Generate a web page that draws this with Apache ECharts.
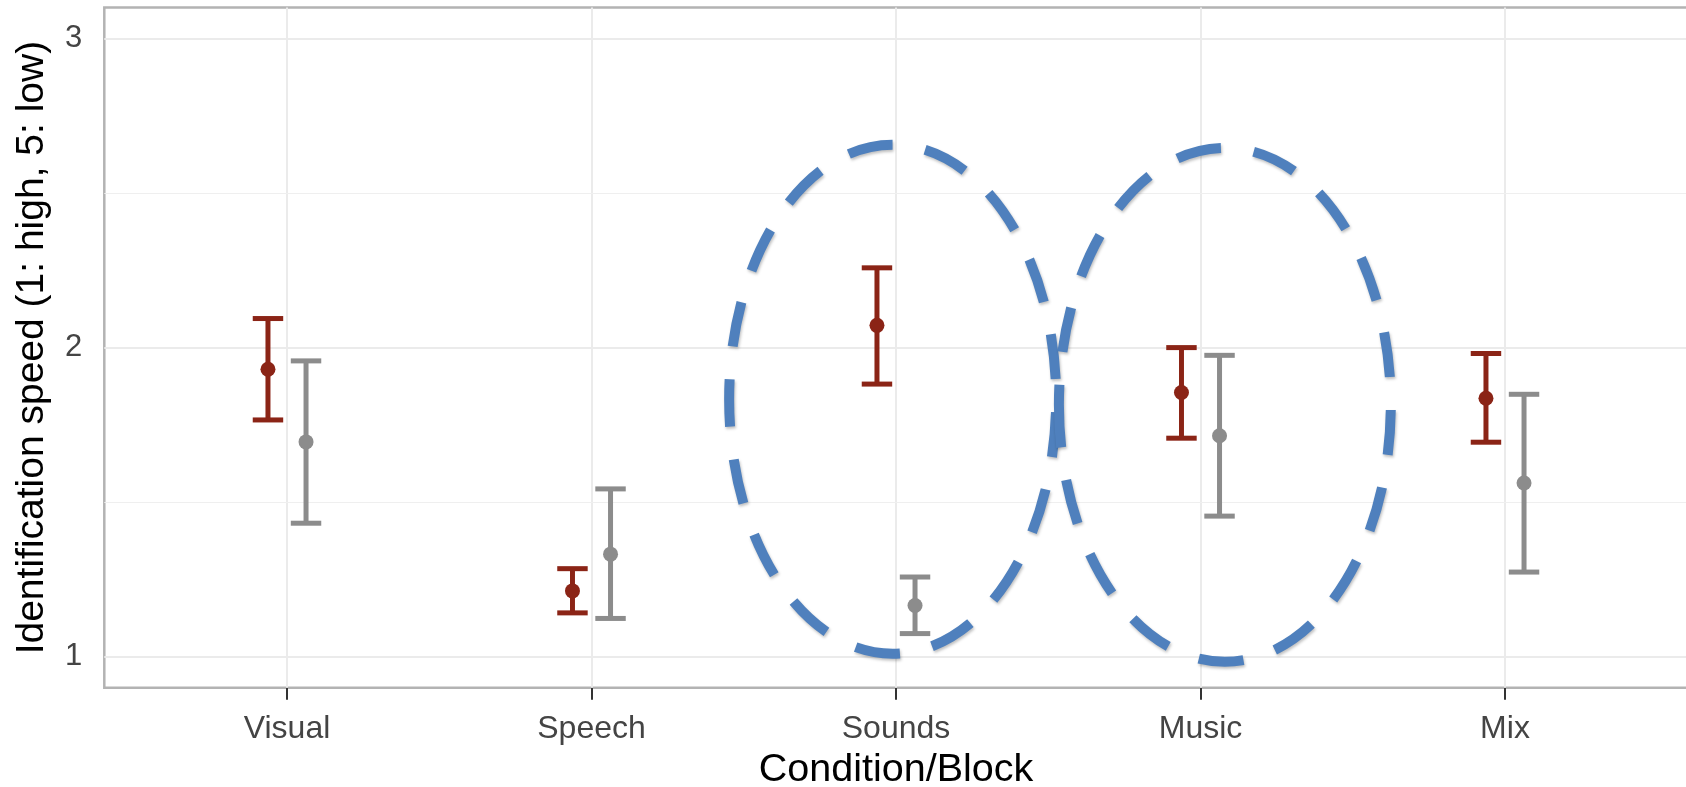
<!DOCTYPE html>
<html>
<head>
<meta charset="utf-8">
<script src="https://cdn.jsdelivr.net/npm/echarts@6/dist/echarts.min.js"></script>
<style>
html,body{margin:0;padding:0;background:#fff;}
#chart{width:1686px;height:787px;}
</style>
</head>
<body>
<div id="chart"></div>
<script>
// ---- data ----
const categories = ['Visual', 'Speech', 'Sounds', 'Music', 'Mix'];
const redMean  = [1.930, 1.213, 2.072, 1.855, 1.836];
const redLow   = [1.766, 1.142, 1.882, 1.707, 1.694];
const redHigh  = [2.094, 1.285, 2.258, 2.000, 1.981];
const greyMean = [1.695, 1.332, 1.166, 1.715, 1.562];
const greyLow  = [1.432, 1.124, 1.075, 1.455, 1.274];
const greyHigh = [1.957, 1.543, 1.258, 1.975, 1.849];
const yTicks = [1, 2, 3];
const yMinorTicks = [1.5, 2.5];
// highlight ellipses (data units: x in category index, y in value)
const ellipseCX = [1.989, 3.080];
const ellipseCY = [1.833, 1.815];
const ellipseRX = [0.537, 0.545];
const ellipseRY = [0.823, 0.831];

// ---- styling constants ----
const RED = '#8b2416';
const GREY = '#8c8c8c';
const DODGE = 0.0625;
const CAP_HALF = 0.05;
const catIdx = categories.map((c, i) => i);

function errorSeries(name, mean, low, high, color, offset) {
  return {
    name: name,
    type: 'custom',
    z: 5,
    data: mean.map((m, i) => [i, m, low[i], high[i]]),
    renderItem: function (params, api) {
      const x = api.value(0) + offset;
      const pm = api.coord([x, api.value(1)]);
      const pl = api.coord([x, api.value(2)]);
      const ph = api.coord([x, api.value(3)]);
      const cw = api.size([CAP_HALF, 0])[0];
      const ls = { stroke: color, lineWidth: 5, fill: null };
      return {
        type: 'group',
        children: [
          { type: 'line', shape: { x1: pm[0], y1: pl[1], x2: pm[0], y2: ph[1] }, style: ls },
          { type: 'line', shape: { x1: pm[0] - cw, y1: ph[1], x2: pm[0] + cw, y2: ph[1] }, style: ls },
          { type: 'line', shape: { x1: pm[0] - cw, y1: pl[1], x2: pm[0] + cw, y2: pl[1] }, style: ls },
          { type: 'circle', shape: { cx: pm[0], cy: pm[1], r: 7.5 }, style: { fill: color } }
        ]
      };
    }
  };
}

const gridLines = []
  .concat(yTicks.map(v => ({ yAxis: v })))
  .concat(catIdx.map(v => ({ xAxis: v })))
  .concat(yMinorTicks.map(v => ({ yAxis: v, lineStyle: { width: 1.2, color: '#efefef' } })));

const chart = echarts.init(document.getElementById('chart'), null, { renderer: 'canvas' });
const option = {
  animation: false,
  backgroundColor: '#ffffff',
  textStyle: { fontFamily: 'Liberation Sans, Arial, sans-serif' },
  grid: {
    left: 104.3, right: -1.7, top: 7.5, bottom: 99.3,
    containLabel: false, outerBoundsMode: 'none',
    show: true, borderColor: '#b3b3b3', borderWidth: 2.5, backgroundColor: 'transparent'
  },
  xAxis: {
    type: 'value', min: -0.6, max: 4.6,
    name: 'Condition/Block', nameLocation: 'middle', nameGap: 62,
    nameTextStyle: { fontSize: 39.5, color: '#000' },
    axisLine: { show: false },
    axisTick: { show: true, customValues: catIdx, length: 12, lineStyle: { color: '#333', width: 2 } },
    axisLabel: { customValues: catIdx, formatter: v => categories[Math.round(v)], fontSize: 32, color: '#444', margin: 25 },
    splitLine: { show: false }
  },
  yAxis: {
    type: 'value', min: 0.9, max: 3.1,
    name: 'Identification speed (1: high, 5: low)', nameLocation: 'middle', nameGap: 53,
    nameTextStyle: { fontSize: 39, color: '#000' },
    axisLine: { show: false },
    axisTick: { show: true, customValues: yTicks, length: 12, lineStyle: { color: '#333', width: 2 } },
    axisLabel: { customValues: yTicks, fontSize: 31, color: '#444', margin: 22 },
    splitLine: { show: false }
  },
  series: [
    {
      type: 'line', data: [], z: 1, silent: true,
      markLine: {
        silent: true, symbol: 'none', label: { show: false }, animation: false,
        lineStyle: { color: '#ebebeb', width: 2, type: 'solid' },
        data: gridLines
      }
    },
    errorSeries('red', redMean, redLow, redHigh, RED, -DODGE),
    errorSeries('grey', greyMean, greyLow, greyHigh, GREY, DODGE),
    {
      type: 'custom', z: 10, silent: true,
      data: ellipseCX.map((c, i) => [c, ellipseCY[i], ellipseRX[i], ellipseRY[i]]),
      renderItem: function (params, api) {
        const c = api.coord([api.value(0), api.value(1)]);
        const rx = api.size([api.value(2), 0])[0];
        const ry = api.size([0, api.value(3)])[1];
        return {
          type: 'ellipse',
          shape: { cx: c[0], cy: c[1], rx: rx, ry: ry },
          style: {
            fill: null, stroke: '#4f80bd', lineWidth: 10,
            lineDash: [45, 33], lineDashOffset: 25, lineCap: 'butt',
            shadowBlur: 3, shadowColor: 'rgba(0,0,0,0.25)', shadowOffsetX: 1, shadowOffsetY: 2
          }
        };
      }
    }
  ]
};
chart.setOption(option);
</script>
</body>
</html>
